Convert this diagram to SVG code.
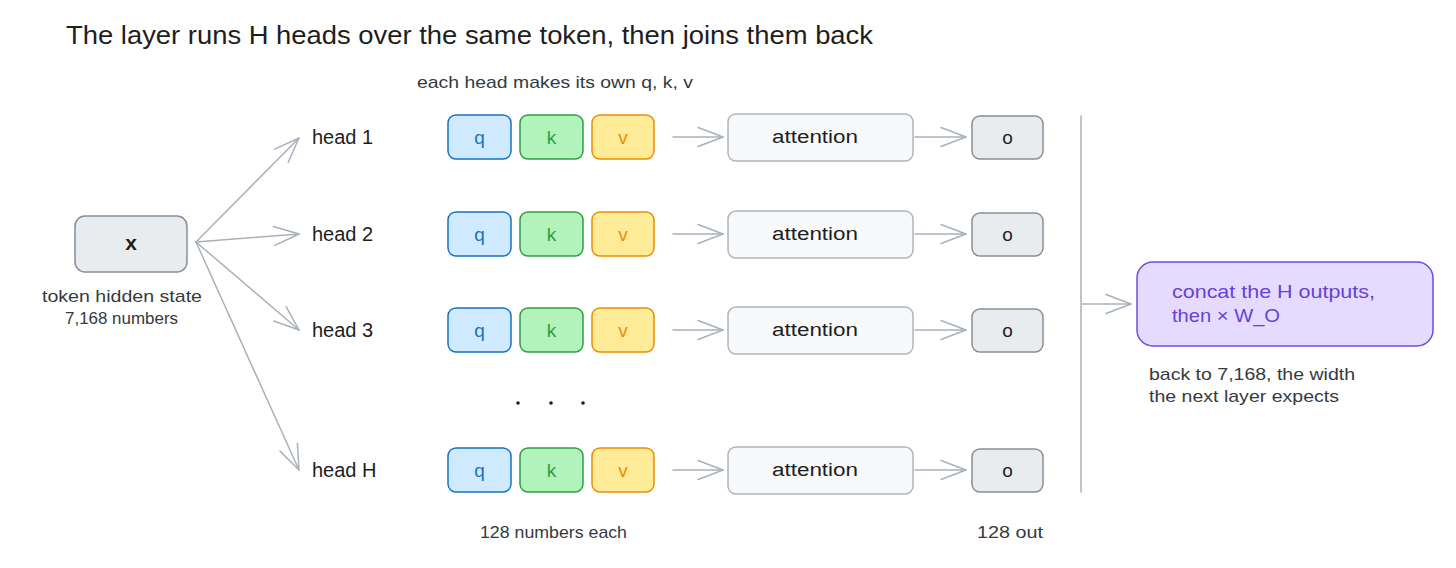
<svg xmlns="http://www.w3.org/2000/svg" width="1456" height="568" viewBox="0 0 1456 568">
<defs>
<marker id="ah" markerUnits="userSpaceOnUse" markerWidth="40" markerHeight="40" refX="0" refY="0" viewBox="-30 -15 40 30" orient="auto" overflow="visible">
<path d="M -25 -9.5 L 0 0 L -25 9.5" fill="none" stroke="#a9b1ba" stroke-width="1.5" stroke-linecap="round" stroke-linejoin="round"/>
</marker>
</defs>
<style>
text{font-family:"Liberation Sans","Noto Sans",sans-serif;fill:#1e1e1e}
.t{font-size:17px;fill:#343a40}
.h{font-size:20px}
.c{text-anchor:middle}
.conn{fill:none;stroke:#a9b1ba;stroke-width:1.5;stroke-linecap:round}
.q{fill:#d0ebff;stroke:#1971c2;stroke-width:1.5}
.k{fill:#b2f2bb;stroke:#2f9e44;stroke-width:1.5}
.v{fill:#ffec99;stroke:#f08c00;stroke-width:1.5}
.qt{fill:#1971c2;font-size:19px}
.kt{fill:#2f9e44;font-size:19px}
.vt{fill:#f08c00;font-size:19px}
.att{fill:#f8f9fa;stroke:#adb5bd;stroke-width:1.5}
.gb{fill:#e9ecef;stroke:#868e96;stroke-width:1.5}
.at{font-size:18px}
.o{font-size:19px}
.cc{font-size:19px;fill:#6741d9}
</style>
<rect width="1456" height="568" fill="#ffffff"/>

<text x="66" y="44" font-size="26" textLength="807" lengthAdjust="spacingAndGlyphs">The layer runs H heads over the same token, then joins them back</text>
<text class="t" x="417" y="88" textLength="276" lengthAdjust="spacingAndGlyphs">each head makes its own q, k, v</text>

<g id="connectors">
<line class="conn" x1="196" y1="242" x2="299" y2="138" marker-end="url(#ah)"/>
<line class="conn" x1="196" y1="242" x2="299" y2="234" marker-end="url(#ah)"/>
<line class="conn" x1="196" y1="242" x2="299" y2="330" marker-end="url(#ah)"/>
<line class="conn" x1="196" y1="242" x2="299" y2="470" marker-end="url(#ah)"/>
<line class="conn" x1="673" y1="137" x2="723" y2="137" marker-end="url(#ah)"/>
<line class="conn" x1="673" y1="234" x2="723" y2="234" marker-end="url(#ah)"/>
<line class="conn" x1="673" y1="330" x2="723" y2="330" marker-end="url(#ah)"/>
<line class="conn" x1="673" y1="470" x2="723" y2="470" marker-end="url(#ah)"/>
<line class="conn" x1="915" y1="137" x2="966" y2="137" marker-end="url(#ah)"/>
<line class="conn" x1="915" y1="234" x2="966" y2="234" marker-end="url(#ah)"/>
<line class="conn" x1="915" y1="330" x2="966" y2="330" marker-end="url(#ah)"/>
<line class="conn" x1="915" y1="470" x2="966" y2="470" marker-end="url(#ah)"/>
<line class="conn" x1="1081" y1="116" x2="1081" y2="492"/>
<line class="conn" x1="1082" y1="304" x2="1131" y2="304" marker-end="url(#ah)"/>
</g>

<g id="x">
<rect class="gb" x="75" y="216" width="112" height="56" rx="10"/>
<text class="c" x="131" y="250" font-size="21" font-weight="bold">x</text>
<text class="t" x="42" y="302" textLength="160" lengthAdjust="spacingAndGlyphs">token hidden state</text>
<text class="t" x="65" y="324" textLength="113" lengthAdjust="spacingAndGlyphs">7,168 numbers</text>
</g>

<g id="head1"><text class="h" x="312" y="144">head 1</text></g>
<g id="head2"><text class="h" x="312" y="241">head 2</text></g>
<g id="head3"><text class="h" x="312" y="337">head 3</text></g>
<g id="headH"><text class="h" x="312" y="477">head H</text></g>

<g id="row1">
<rect class="q" x="448" y="115" width="63" height="44" rx="8"/><text class="qt c" x="479.5" y="144">q</text>
<rect class="k" x="520" y="115" width="63" height="44" rx="8"/><text class="kt c" x="551.5" y="144">k</text>
<rect class="v" x="592" y="115" width="62" height="44" rx="8"/><text class="vt c" x="623" y="144">v</text>
<rect class="att" x="728" y="114" width="185" height="47" rx="8"/><text class="at" x="772" y="143" textLength="86" lengthAdjust="spacingAndGlyphs">attention</text>
<rect class="gb" x="972" y="116" width="71" height="43" rx="8"/><text class="o c" x="1007.5" y="144">o</text>
</g>
<g id="row2">
<rect class="q" x="448" y="212" width="63" height="44" rx="8"/><text class="qt c" x="479.5" y="241">q</text>
<rect class="k" x="520" y="212" width="63" height="44" rx="8"/><text class="kt c" x="551.5" y="241">k</text>
<rect class="v" x="592" y="212" width="62" height="44" rx="8"/><text class="vt c" x="623" y="241">v</text>
<rect class="att" x="728" y="211" width="185" height="47" rx="8"/><text class="at" x="772" y="240" textLength="86" lengthAdjust="spacingAndGlyphs">attention</text>
<rect class="gb" x="972" y="213" width="71" height="43" rx="8"/><text class="o c" x="1007.5" y="241">o</text>
</g>
<g id="row3">
<rect class="q" x="448" y="308" width="63" height="44" rx="8"/><text class="qt c" x="479.5" y="337">q</text>
<rect class="k" x="520" y="308" width="63" height="44" rx="8"/><text class="kt c" x="551.5" y="337">k</text>
<rect class="v" x="592" y="308" width="62" height="44" rx="8"/><text class="vt c" x="623" y="337">v</text>
<rect class="att" x="728" y="307" width="185" height="47" rx="8"/><text class="at" x="772" y="336" textLength="86" lengthAdjust="spacingAndGlyphs">attention</text>
<rect class="gb" x="972" y="309" width="71" height="43" rx="8"/><text class="o c" x="1007.5" y="337">o</text>
</g>
<g id="rowH">
<rect class="q" x="448" y="448" width="63" height="44" rx="8"/><text class="qt c" x="479.5" y="477">q</text>
<rect class="k" x="520" y="448" width="63" height="44" rx="8"/><text class="kt c" x="551.5" y="477">k</text>
<rect class="v" x="592" y="448" width="62" height="44" rx="8"/><text class="vt c" x="623" y="477">v</text>
<rect class="att" x="728" y="447" width="185" height="47" rx="8"/><text class="at" x="772" y="476" textLength="86" lengthAdjust="spacingAndGlyphs">attention</text>
<rect class="gb" x="972" y="449" width="71" height="43" rx="8"/><text class="o c" x="1007.5" y="477">o</text>
</g>

<g id="dots">
<circle cx="518" cy="403" r="1.8" fill="#1e1e1e"/>
<circle cx="551" cy="403" r="1.8" fill="#1e1e1e"/>
<circle cx="583" cy="403" r="1.8" fill="#1e1e1e"/>
</g>

<text class="t" x="480" y="538" textLength="147" lengthAdjust="spacingAndGlyphs">128 numbers each</text>
<text class="t" x="977" y="538" textLength="66" lengthAdjust="spacingAndGlyphs">128 out</text>

<g id="concat">
<rect x="1137" y="262" width="296" height="84" rx="16" fill="#e5dbff" stroke="#7048e8" stroke-width="1.5"/>
<text class="cc" x="1172" y="298" textLength="203" lengthAdjust="spacingAndGlyphs">concat the H outputs,</text>
<text class="cc" x="1172" y="322" textLength="108" lengthAdjust="spacingAndGlyphs">then × W_O</text>
<text class="t" x="1149" y="380" textLength="206" lengthAdjust="spacingAndGlyphs">back to 7,168, the width</text>
<text class="t" x="1149" y="402" textLength="190" lengthAdjust="spacingAndGlyphs">the next layer expects</text>
</g>
</svg>
